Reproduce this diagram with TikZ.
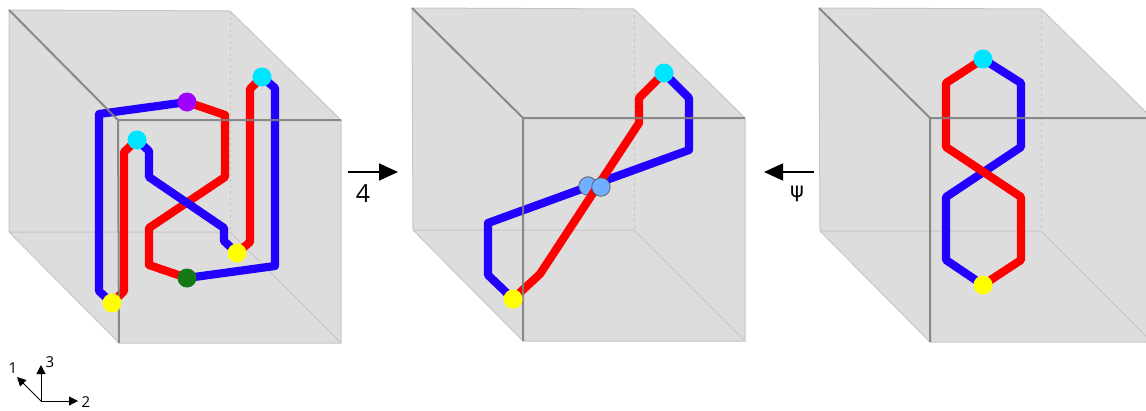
\documentclass[tikz,border=0pt]{standalone}
\usepackage{fontspec}
\setmainfont{Open Sans}
\newfontfamily\grk{DejaVu Sans}
\usetikzlibrary{arrows.meta}
\definecolor{cubefill}{HTML}{DDDDDD}
\definecolor{cubeedge}{HTML}{C6C6C6}
\definecolor{frontedge}{HTML}{808080}
\definecolor{sred}{HTML}{FF0000}
\definecolor{sblue}{HTML}{2200FF}
\definecolor{cyanD}{HTML}{00E5FF}
\definecolor{yellowD}{HTML}{FFFF00}
\definecolor{purpleD}{HTML}{A000FF}
\definecolor{greenD}{HTML}{147814}
\definecolor{lblue}{HTML}{70AEFF}
\tikzset{
  x=1pt,y=-1pt,
  cubeface/.style={fill=cubefill,draw=none},
  backline/.style={draw=cubeedge,line width=1pt},
  hiddenline/.style={draw=cubeedge,line width=1pt,dash pattern=on 3pt off 3pt},
  frontline/.style={draw=frontedge,line width=2pt,draw opacity=.9},
  redstrand/.style={draw=sred,line width=8.2pt,line join=round},
  bluestrand/.style={draw=sblue,line width=8.2pt,line join=round},
  dotnode/.style={circle,inner sep=0pt,minimum size=19pt,draw=none,fill=#1},
  ringnode/.style={circle,inner sep=0pt,minimum size=18.5pt,draw=black!65,line width=.7pt,fill=lblue},
  bigarrow/.style={draw=black,line width=1.6pt,-{Triangle[length=19pt,width=17pt]}},
  axisarrow/.style={draw=black,line width=1pt,-{Triangle[length=9pt,width=9pt]}},
  lab/.style={font=\fontsize{15}{15}\selectfont,inner sep=0pt,text=black},
  glyphA/.style={font=\fontsize{25}{25}\selectfont,inner sep=0pt,text=black},
  glyphB/.style={font=\grk\fontsize{21}{21}\selectfont,inner sep=0pt,text=black},
}
\newcommand{\cubeback}[8]{%
  \fill[cubeface] #1 -- #2 -- #3 -- #4 -- #5 -- #6 -- cycle;
  \draw[backline] #1 -- #2 -- #3 -- #4 -- #5 -- #6 -- cycle;
  \draw[backline] #6 -- #8 -- #4;
  \draw[hiddenline] #2 -- #8;
}
\begin{document}
\begin{tikzpicture}
\useasboundingbox (0,0) rectangle (1146,410);
\cubeback{(9,10)}{(230,11)}{(341,120)}{(341,343)}{(119,343)}{(9,232)}{(118,120)}{(230,232)}
\cubeback{(412,8)}{(634,9)}{(745,118)}{(745,341)}{(523,341)}{(413,230)}{(523,118)}{(634,230)}
\cubeback{(819,8)}{(1041,9)}{(1152,118)}{(1152,342)}{(930,342)}{(820,231)}{(930,118)}{(1041,231)}
% left cube points
\coordinate (pu) at (187,102);
\coordinate (gr) at (187,278);
\coordinate (cA) at (262,77);
\coordinate (cB) at (137,140);
\coordinate (yA) at (237,253);
\coordinate (yB) at (112,303);
\draw[bluestrand] (pu) -- (99,114) -- (99,291) -- (yB);
\draw[bluestrand] (gr) -- (275,266) -- (275,88) -- (cA);
\draw[redstrand] (pu) -- (225,115) -- (225,177) -- (149,228) -- (149,265) -- (gr);
\draw[redstrand] (cA) -- (250,89) -- (250,242) -- (yA);
\draw[bluestrand] (yA) -- (224,241) -- (224,228) -- (149,177) -- (149,151) -- (cB);
\draw[redstrand] (cB) -- (124,152) -- (124,291) -- (yB);
% middle cube points
\coordinate (cC) at (664,73);
\coordinate (yC) at (513,299);
\draw[bluestrand] (cC) -- (689,98) -- (689,150) -- (488,223) -- (488,275) -- (yC);
\node[ringnode] (mL) at (588,186) {};
\draw[redstrand] (cC) -- (639,98) -- (639,123) -- (540,274) -- (yC);
\node[ringnode] (mR) at (601,187) {};
% right cube points
\coordinate (cD) at (983,59);
\coordinate (yD) at (983,285);
\draw[bluestrand] (cD) -- (1021,83) -- (1021,147) -- (946,197) -- (946,260) -- (yD);
\draw[redstrand] (cD) -- (946,83) -- (946,147) -- (1021,197) -- (1021,260) -- (yD);
% front edges on top
\draw[frontline] (9,10) -- (118,120) -- (341,120) (118,120) -- (119,343);
\draw[frontline] (412,8) -- (523,118) -- (745,118) (523,118) -- (523,341);
\draw[frontline] (819,8) -- (930,118) -- (1146,118) (930,118) -- (930,342);
% dots
\node[dotnode=purpleD] (dpu) at (pu) {};
\node[dotnode=greenD] (dgr) at (gr) {};
\node[dotnode=cyanD] (dcA) at (cA) {};
\node[dotnode=cyanD] (dcB) at (cB) {};
\node[dotnode=yellowD] (dyA) at (yA) {};
\node[dotnode=yellowD] (dyB) at (yB) {};
\node[dotnode=cyanD] (dcC) at (cC) {};
\node[dotnode=yellowD] (dyC) at (yC) {};
\node[dotnode=cyanD] (dcD) at (cD) {};
\node[dotnode=yellowD] (dyD) at (yD) {};
% maps
\coordinate (aS) at (348,172); \coordinate (aE) at (398,172);
\coordinate (bS) at (814,172); \coordinate (bE) at (764,172);
\draw[bigarrow] (aS) -- (aE);
\draw[bigarrow] (bS) -- (bE);
\node[glyphA] (phi) at (363,194) {4};
\node[glyphB] (psi) at (797,194) {ψ};
% axes
\coordinate (O) at (41,401);
\coordinate (a1) at (17,377);
\coordinate (a2) at (78,401);
\coordinate (a3) at (41,365);
\draw[axisarrow] (O) -- (a1);
\draw[axisarrow] (O) -- (a2);
\draw[axisarrow] (O) -- (a3);
\node[lab] (l1) at (13,368) {1};
\node[lab] (l2) at (86,402) {2};
\node[lab] (l3) at (50,362) {3};
\end{tikzpicture}
\end{document}
